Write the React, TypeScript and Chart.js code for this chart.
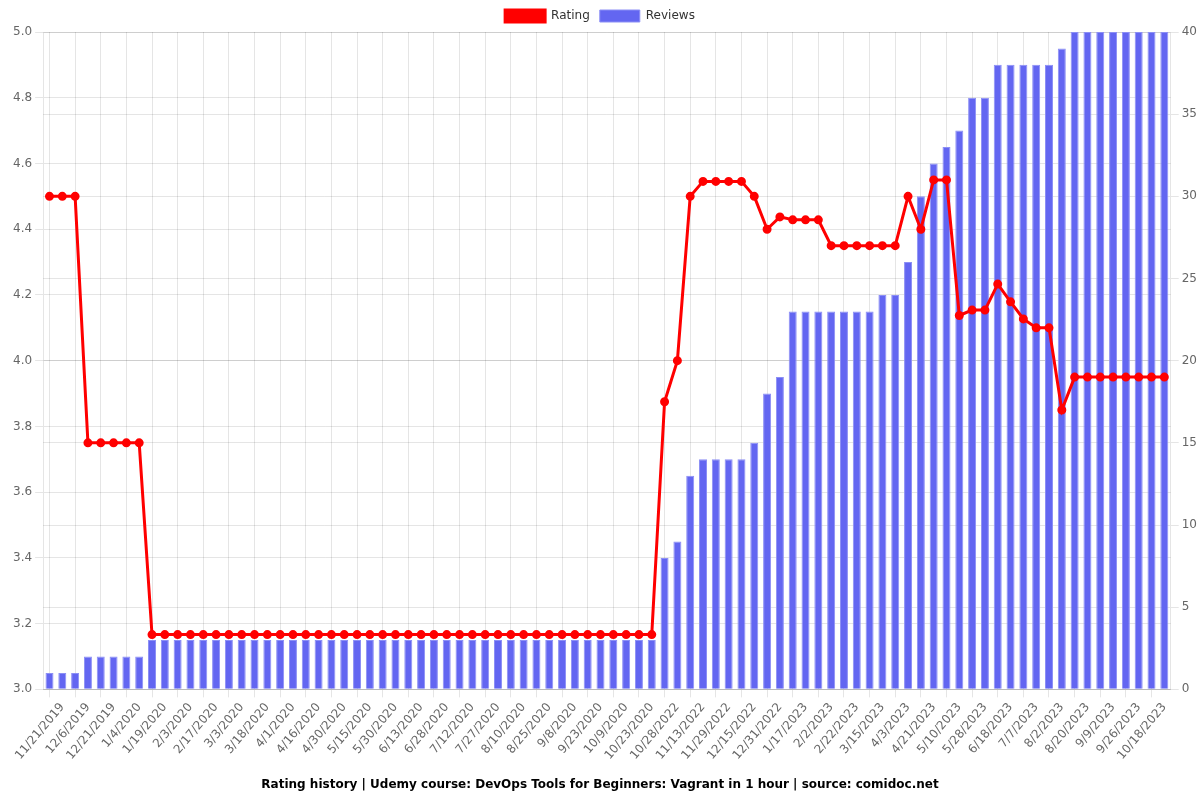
import React, { useEffect, useRef } from "react";
import { Chart, registerables } from "chart.js";

Chart.register(...registerables);

const dates: string[] = [
  "11/14/2019", "11/21/2019", "11/29/2019", "12/6/2019", "12/14/2019", "12/21/2019", "12/28/2019", "1/4/2020",
  "1/11/2020", "1/19/2020", "1/26/2020", "2/3/2020", "2/10/2020", "2/17/2020", "2/24/2020", "3/3/2020",
  "3/10/2020", "3/18/2020", "3/25/2020", "4/1/2020", "4/9/2020", "4/16/2020", "4/23/2020", "4/30/2020",
  "5/7/2020", "5/15/2020", "5/22/2020", "5/30/2020", "6/6/2020", "6/13/2020", "6/20/2020", "6/28/2020",
  "7/5/2020", "7/12/2020", "7/19/2020", "7/27/2020", "8/3/2020", "8/10/2020", "8/17/2020", "8/25/2020",
  "9/1/2020", "9/8/2020", "9/15/2020", "9/23/2020", "10/1/2020", "10/9/2020", "10/16/2020", "10/23/2020",
  "10/20/2022", "10/28/2022", "11/5/2022", "11/13/2022", "11/21/2022", "11/29/2022", "12/7/2022", "12/15/2022",
  "12/23/2022", "12/31/2022", "1/9/2023", "1/17/2023", "1/25/2023", "2/2/2023", "2/12/2023", "2/22/2023",
  "3/4/2023", "3/15/2023", "3/24/2023", "4/3/2023", "4/12/2023", "4/21/2023", "5/1/2023", "5/10/2023",
  "5/19/2023", "5/28/2023", "6/7/2023", "6/18/2023", "6/28/2023", "7/7/2023", "7/20/2023", "8/2/2023",
  "8/11/2023", "8/20/2023", "8/30/2023", "9/9/2023", "9/17/2023", "9/26/2023", "10/7/2023", "10/18/2023",
];

const rating: number[] = [
  4.5, 4.5, 4.5,
  3.75, 3.75, 3.75, 3.75, 3.75,
  3.1667, 3.1667, 3.1667, 3.1667, 3.1667, 3.1667, 3.1667, 3.1667, 3.1667, 3.1667,
  3.1667, 3.1667, 3.1667, 3.1667, 3.1667, 3.1667, 3.1667, 3.1667, 3.1667, 3.1667,
  3.1667, 3.1667, 3.1667, 3.1667, 3.1667, 3.1667, 3.1667, 3.1667, 3.1667, 3.1667,
  3.1667, 3.1667, 3.1667, 3.1667, 3.1667, 3.1667, 3.1667, 3.1667, 3.1667, 3.1667,
  3.875, 4.0, 4.5,
  4.5455, 4.5455, 4.5455, 4.5455,
  4.5, 4.4, 4.4375,
  4.4286, 4.4286, 4.4286,
  4.35, 4.35, 4.35, 4.35, 4.35, 4.35,
  4.5, 4.4, 4.55, 4.55,
  4.1375, 4.154, 4.154, 4.233, 4.179, 4.127, 4.1, 4.1,
  3.85,
  3.95, 3.95, 3.95, 3.95, 3.95, 3.95, 3.95, 3.95,
];

const reviews: number[] = [
  1, 1, 1,
  2, 2, 2, 2, 2,
  3, 3, 3, 3, 3, 3, 3, 3, 3, 3,
  3, 3, 3, 3, 3, 3, 3, 3, 3, 3,
  3, 3, 3, 3, 3, 3, 3, 3, 3, 3,
  3, 3, 3, 3, 3, 3, 3, 3, 3, 3,
  8, 9, 13,
  14, 14, 14, 14,
  15, 18, 19,
  23, 23, 23, 23, 23, 23, 23,
  24, 24, 26, 30, 32, 33, 34,
  36, 36,
  38, 38, 38, 38, 38,
  39,
  40, 40, 40, 40, 40, 40, 40, 40,
];

const titleText = "Rating history | Udemy course: DevOps Tools for Beginners: Vagrant in 1 hour | source: comidoc.net";

export default function App() {
  const ref = useRef<HTMLCanvasElement>(null);

  useEffect(() => {
    if (!ref.current) return;
    Chart.defaults.font.family = "'DejaVu Sans', sans-serif";
    Chart.defaults.font.size = 12;
    Chart.defaults.color = "#666";
    // axis is reversed so that label auto-skipping keeps the latest date
    const labels = [...dates].reverse();
    const chart = new Chart(ref.current, {
      type: "bar",
      data: {
        labels,
        datasets: [
          {
            type: "line",
            label: "Rating",
            data: [...rating].reverse(),
            yAxisID: "y",
            borderColor: "#ff0000",
            backgroundColor: "#ff0000",
            borderWidth: 3,
            pointRadius: 3,
            pointBackgroundColor: "#ff0000",
            pointBorderColor: "#ff0000",
            tension: 0,
          },
          {
            type: "bar",
            label: "Reviews",
            data: [...reviews].reverse(),
            yAxisID: "y1",
            backgroundColor: "#6366f1",
            borderColor: "rgba(140,143,245,1)",
            borderWidth: 1,
            barPercentage: 0.78,
            categoryPercentage: 0.8,
          },
        ],
      },
      options: {
        responsive: false,
        animation: false,
        maintainAspectRatio: false,
        plugins: {
          legend: {
            position: "top",
            labels: { color: "#333" },
          },
          title: {
            display: true,
            text: titleText,
            position: "bottom",
            color: "#000",
            font: { size: 12, weight: "bold" },
            padding: { top: 12, bottom: 8 },
          },
          tooltip: { enabled: false },
        },
        scales: {
          x: {
            reverse: true,
            ticks: { color: "#666" },
          },
          y: {
            position: "left",
            min: 3,
            max: 5,
            ticks: { stepSize: 0.2, callback: (v: any) => Number(v).toFixed(1) },
            afterFit: (scale: any) => {
              scale.width += 10;
            },
          },
          y1: {
            position: "right",
            min: 0,
            max: 40,
            ticks: { stepSize: 5 },
          },
        },
      },
    });
    return () => chart.destroy();
  }, []);

  return (
    <div style={{ position: "fixed", left: 0, top: 0, width: 1200, height: 800, background: "#fff" }}>
      <canvas ref={ref} width={1200} height={800} style={{ width: 1200, height: 800 }} />
    </div>
  );
}
